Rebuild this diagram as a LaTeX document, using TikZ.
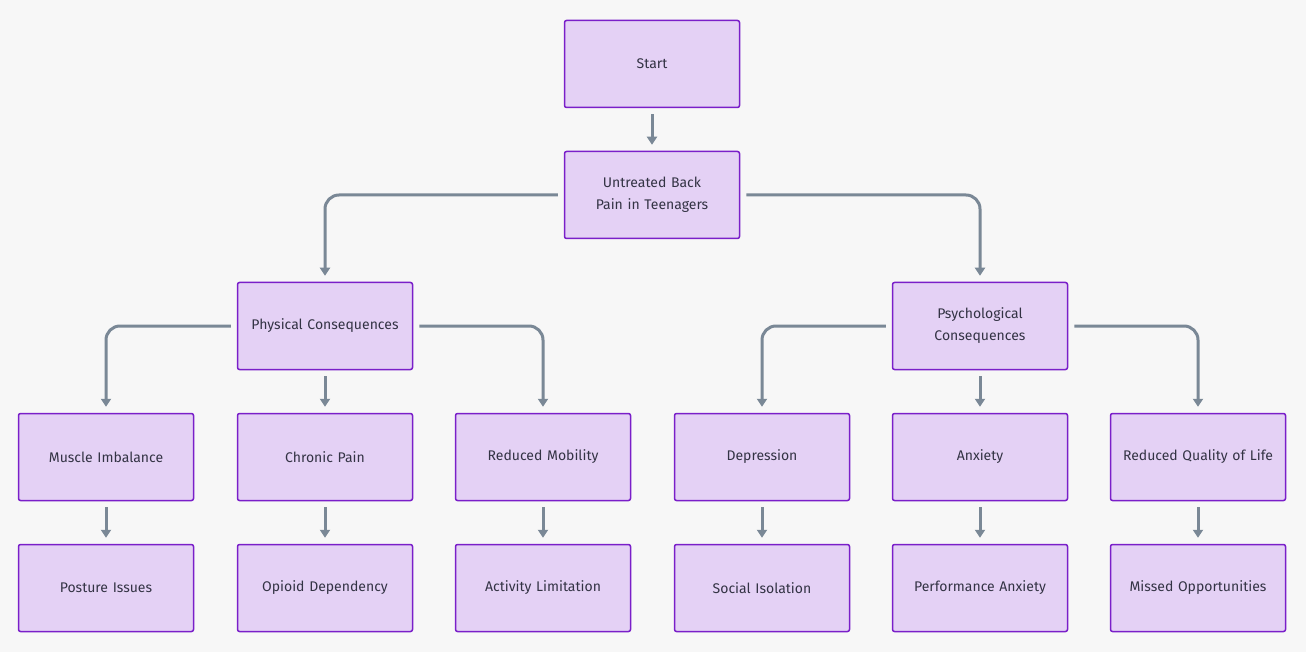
\documentclass[tikz,border=0pt]{standalone}
\usepackage{fontspec}
\setmainfont{Fira Sans}
\usetikzlibrary{arrows.meta}
\definecolor{bg}{HTML}{F7F7F7}
\definecolor{nfill}{HTML}{E4D1F5}
\definecolor{nborder}{HTML}{7A1FC9}
\definecolor{edge}{HTML}{7A8896}
\definecolor{txt}{HTML}{333344}
\begin{document}
\begin{tikzpicture}[x=1pt,y=-1pt,
  box/.style={draw=nborder,line width=1.5pt,fill=nfill,rounded corners=2pt,minimum width=175pt,minimum height=87pt,text width=155pt,align=center,font=\fontsize{14}{22}\selectfont,text=txt,inner sep=0pt},
  arr/.style={draw=edge,line width=3pt,rounded corners=14pt,-{Triangle[length=8pt,width=10pt]},shorten >=6pt,shorten <=6pt}]
\fill[bg] (0,0) rectangle (1306,652);
\useasboundingbox (0,0) rectangle (1306,652);
\node[box] (s) at (652,64) {Start};
\node[box] (u) at (652,195) {Untreated Back Pain in Teenagers};
\node[box] (p) at (325,326) {Physical Consequences};
\node[box] (q) at (980,326) {Psychological Consequences};
\node[box] (a1) at (106,457) {Muscle Imbalance};
\node[box] (a2) at (325,457) {Chronic Pain};
\node[box] (a3) at (543,457) {Reduced Mobility};
\node[box] (a4) at (762,457) {Depression};
\node[box] (a5) at (980,457) {Anxiety};
\node[box] (a6) at (1198,457) {Reduced Quality of Life};
\node[box] (b1) at (106,588) {Posture Issues};
\node[box] (b2) at (325,588) {Opioid Dependency};
\node[box] (b3) at (543,588) {Activity Limitation};
\node[box] (b4) at (762,588) {Social Isolation};
\node[box] (b5) at (980,588) {Performance Anxiety};
\node[box] (b6) at (1198,588) {Missed Opportunities};
\draw[arr] (s) -- (u);
\draw[arr] (u.west) -| (p.north);
\draw[arr] (u.east) -| (q.north);
\draw[arr] (p.west) -| (a1.north);
\draw[arr] (p) -- (a2);
\draw[arr] (p.east) -| (a3.north);
\draw[arr] (q.west) -| (a4.north);
\draw[arr] (q) -- (a5);
\draw[arr] (q.east) -| (a6.north);
\foreach \i in {1,...,6}{\draw[arr] (a\i) -- (b\i);}
\end{tikzpicture}
\end{document}
